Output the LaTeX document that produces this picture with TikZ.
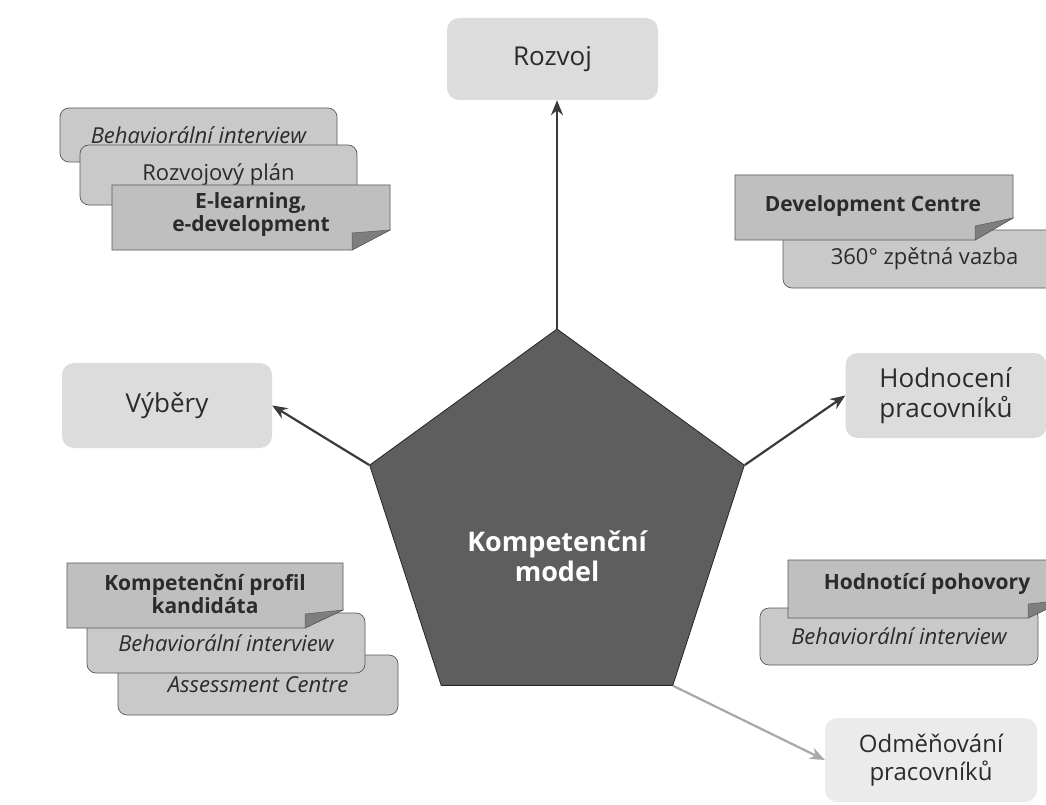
\documentclass[tikz,border=0pt]{standalone}
\usepackage{fontspec}
\setmainfont{Open Sans}
\usetikzlibrary{shapes.geometric,arrows.meta,positioning}
\definecolor{boxgray}{HTML}{DCDCDC}
\definecolor{palegray}{HTML}{EBEBEB}
\definecolor{notegray}{HTML}{C9C9C9}
\definecolor{foldgray}{HTML}{BFBFBF}
\definecolor{eargray}{HTML}{7E7E7E}
\definecolor{edgegray}{HTML}{5A5A5A}
\definecolor{inkgray}{HTML}{2B2B2B}
\definecolor{modelgray}{HTML}{5E5E5E}
\definecolor{arrowgray}{HTML}{3A3A3A}
\definecolor{lightarrowgray}{HTML}{A8A8A8}

\begin{document}
\begin{tikzpicture}[x=1pt, y=-1pt,
        topic/.style={rectangle, rounded corners=12pt, fill=boxgray, text=inkgray, font=\fontsize{26}{30}\selectfont, align=center},
        note/.style={rectangle, rounded corners=9pt, fill=notegray, draw=edgegray, line width=0.7pt, text=inkgray, font=\fontsize{22}{24}\selectfont},
        foldnote/.style={fill=foldgray, draw=edgegray, line width=0.7pt},
        foldtext/.style={text=inkgray, font=\fontsize{21}{23}\selectfont\bfseries, align=center},
        ear/.style={fill=eargray, draw=edgegray, line width=0.5pt},
        model/.style={regular polygon, regular polygon sides=5, minimum size=394pt, fill=modelgray, draw=black!85, line width=0.8pt},
        modeltext/.style={text=white, font=\fontsize{27}{30}\selectfont\bfseries, align=center},
        arrow/.style={-{Stealth[length=15pt,width=12pt]}, line width=2.2pt, draw=arrowgray},
        lightarrow/.style={arrow, draw=lightarrowgray},
      ]
      \useasboundingbox (0,0) rectangle (1046,805);
      \clip (0,0) rectangle (1046,805);
      \fill[white] (0,0) rectangle (1046,805);
      % top left stack
      \node [note, minimum width=277pt, minimum height=54pt] (behavtop) at (198.5,135) {\itshape Behaviorální interview};
      \node [note, minimum width=277pt, minimum height=60pt] (plan) at (218.5,175) {Rozvojový plán};
      \filldraw [foldnote] (112,185) -- (390,185) -- (390,230) -- (352,250) -- (112,250) -- cycle;
      \filldraw [ear] (390,230) -- (352,250) -- (352,233) -- cycle;
      \node [foldtext] (elearning) at (251,215) {E-learning,\\e-development};
      % top right stack
      \node [note, minimum width=283pt, minimum height=58pt] (feedback) at (924.5,259) {360° zpětná vazba};
      \filldraw [foldnote] (735,175) -- (1013,175) -- (1013,218) -- (975,240) -- (735,240) -- cycle;
      \filldraw [ear] (1013,218) -- (975,240) -- (975,226) -- cycle;
      \node [foldtext] (devcentre) at (873,206) {Development Centre};
      % bottom left stack
      \node [note, minimum width=280pt, minimum height=60pt] (assessment) at (258,685) {\itshape Assessment Centre};
      \node [note, minimum width=278pt, minimum height=60pt] (behavleft) at (226,643) {\itshape Behaviorální interview};
      \filldraw [foldnote] (67,563) -- (343,563) -- (343,610) -- (305,628) -- (67,628) -- cycle;
      \filldraw [ear] (343,610) -- (305,628) -- (305,614) -- cycle;
      \node [foldtext] (profil) at (205,594) {Kompetenční profil\\kandidáta};
      % bottom right stack
      \node [note, minimum width=278pt, minimum height=57pt] (behavright) at (899,636.5) {\itshape Behaviorální interview};
      \filldraw [foldnote] (788,560) -- (1066,560) -- (1066,600) -- (1028,618) -- (788,618) -- cycle;
      \filldraw [ear] (1066,600) -- (1028,618) -- (1028,604) -- cycle;
      \node [foldtext] (pohovory) at (927,584) {Hodnotící pohovory};
      % topics
      \node [topic, minimum width=211pt, minimum height=82pt] (rozvoj) at (552.5,59) {Rozvoj};
      \node [topic, minimum width=210pt, minimum height=85pt] (vybery) at (167,405.5) {Výběry};
      \node [topic, minimum width=201pt, minimum height=85pt, align=left] (hodnoceni) at (946,395.5) {Hodnocení\\pracovníků};
      \node [topic, fill=palegray, minimum width=212pt, minimum height=84pt, font=\fontsize{24}{28}\selectfont] (odmenovani) at (931,760) {Odměňování\\pracovníků};
      % model
      \node [model] (model) at (557,526) {};
      \node [modeltext] (modellabel) at ([yshift=-30pt]model.center) {Kompetenční\\model};
      \draw [arrow] (model.corner 1) -- (model.corner 1 |- rozvoj.south);
      \draw [arrow] (model.corner 2) -- (vybery.east);
      \draw [arrow] (model.corner 5) -- (hodnoceni.west);
      \draw [lightarrow] (model.corner 4) -- (odmenovani.west);
    \end{tikzpicture}
\end{document}
